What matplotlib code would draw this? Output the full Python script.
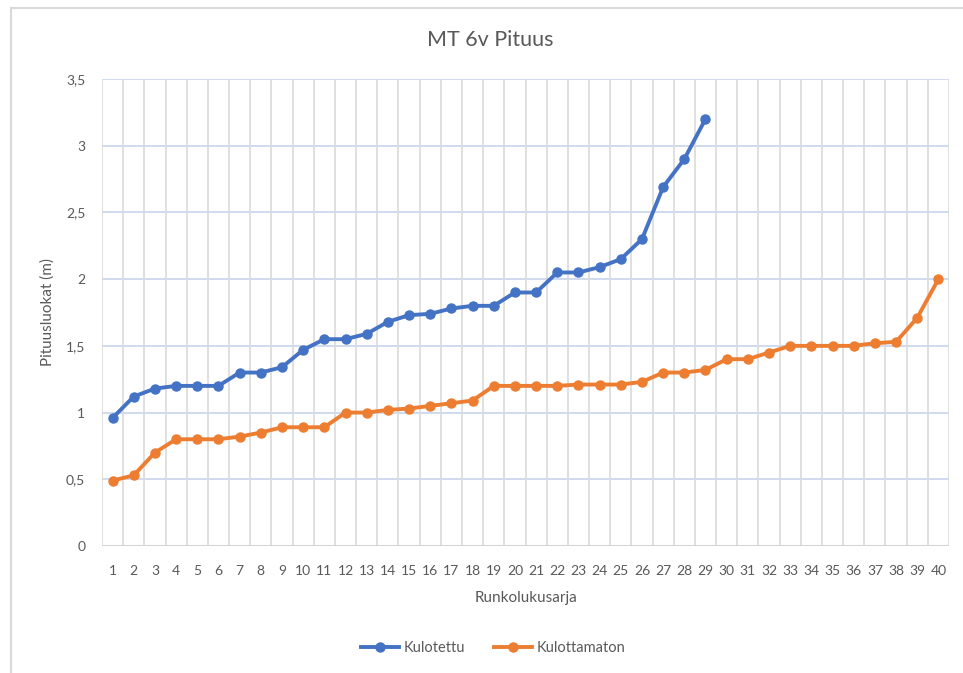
import numpy as np
import matplotlib
matplotlib.use("Agg")
import matplotlib.pyplot as plt
from matplotlib.lines import Line2D

plt.rcParams['font.family'] = ['Lato', 'DejaVu Sans']

# data
kulotettu = [0.96, 1.12, 1.18, 1.20, 1.20, 1.20, 1.30, 1.30, 1.34, 1.47,
             1.55, 1.55, 1.59, 1.68, 1.73, 1.74, 1.78, 1.80, 1.80, 1.90,
             1.90, 2.05, 2.05, 2.09, 2.15, 2.30, 2.69, 2.90, 3.20]
kulottamaton = [0.49, 0.53, 0.70, 0.80, 0.80, 0.80, 0.82, 0.85, 0.89, 0.89,
                0.89, 1.00, 1.00, 1.02, 1.03, 1.05, 1.07, 1.09, 1.20, 1.20,
                1.20, 1.20, 1.21, 1.21, 1.21, 1.23, 1.30, 1.30, 1.32, 1.40,
                1.40, 1.45, 1.50, 1.50, 1.50, 1.50, 1.52, 1.53, 1.71, 2.00]
series_names = ["Kulotettu", "Kulottamaton"]
y_ticks = [0, 0.5, 1, 1.5, 2, 2.5, 3, 3.5]

blue = "#4472c4"
orange = "#ed7d31"
text_col = "#595959"

W, H = 963, 673
fig = plt.figure(figsize=(W / 100, H / 100), dpi=100)

# outer chart frame (only top & left edges visible in the crop)
fig.add_artist(Line2D([11 / W, 1], [1 - 8 / H, 1 - 8 / H], color="#d9d9d9", lw=1.5))
fig.add_artist(Line2D([11 / W, 11 / W], [0, 1 - 8 / H], color="#d9d9d9", lw=1.5))

left, right, top, bottom = 102, 949, 79, 546
ax = fig.add_axes([left / W, 1 - bottom / H, (right - left) / W, (bottom - top) / H])

x1 = np.arange(1, len(kulotettu) + 1)
x2 = np.arange(1, len(kulottamaton) + 1)
ax.plot(x1, kulotettu, color=blue, lw=2.8, marker="o", ms=6.5, zorder=3)
ax.plot(x2, kulottamaton, color=orange, lw=2.8, marker="o", ms=6.5, zorder=3)

ax.set_xlim(0.5, 40.5)
ax.set_ylim(0, 3.5)

# horizontal gridlines (blue-ish) and category boundaries (gray)
for yv in y_ticks:
    ax.axhline(yv, color="#c7d4ec", lw=1.2, zorder=1)
for xv in np.arange(0.5, 41, 1):
    ax.axvline(xv, color="#dadada", lw=1.2, zorder=1)
ax.axhline(0, color="#d4d4d4", lw=1.5, zorder=2)

ax.set_yticks(y_ticks)
ax.set_yticklabels([("%g" % v).replace(".", ",") for v in y_ticks])
ax.set_xticks(x2)
ax.set_xticklabels([str(v) for v in x2])
ax.tick_params(axis="both", length=0, colors=text_col, labelsize=10)
ax.tick_params(axis="y", pad=12)
ax.tick_params(axis="x", pad=14)

for s in ax.spines.values():
    s.set_visible(False)

ax.set_xlabel("Runkolukusarja", color=text_col, fontsize=11, labelpad=10)
ax.set_ylabel("Pituusluokat (m)", color=text_col, fontsize=11, labelpad=8)
fig.text(490 / W, 1 - 40 / H, "MT 6v Pituus", ha="center", va="center",
         color=text_col, fontsize=15.5)

handles = [Line2D([], [], color=blue, lw=2.8, marker="o", ms=6.5),
           Line2D([], [], color=orange, lw=2.8, marker="o", ms=6.5)]
fig.legend(handles, series_names, loc="center", bbox_to_anchor=(493 / W, 1 - 648 / H),
           ncol=2, frameon=False, fontsize=10.5, labelcolor=text_col,
           handlelength=2.6, handletextpad=0.3, columnspacing=2.0)

fig.savefig("out.png", dpi=100)
